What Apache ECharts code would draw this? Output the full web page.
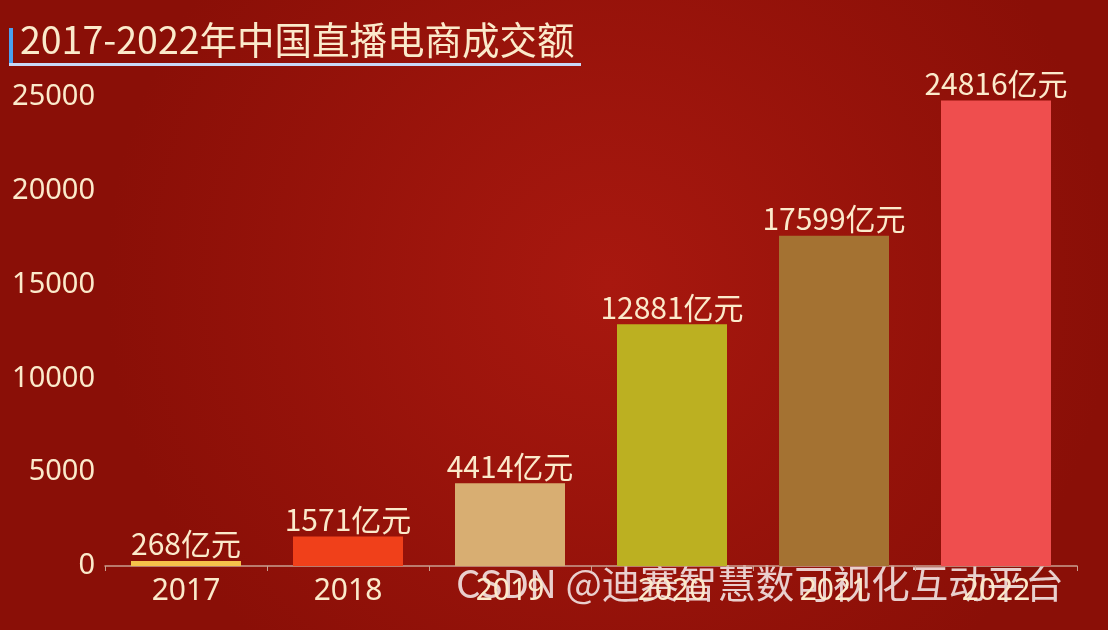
<!DOCTYPE html>
<html><head><meta charset="utf-8">
<script src="https://cdn.jsdelivr.net/npm/echarts@6/dist/echarts.min.js"></script>
<style>html,body{margin:0;padding:0;}#c{width:1108px;height:630px;}</style>
</head><body><div id="c"></div>
<script>
const categories = ['2017','2018','2019','2020','2021','2022'];
const values = [268,1571,4414,12881,17599,24816];
const colors = ['#f5c24a','#f0401a','#d8ae72','#bcb021','#a47232','#ef4e4e'];
const yTicks = [0,5000,10000,15000,20000,25000];
const chart = echarts.init(document.getElementById('c'));
chart.setOption({
  backgroundColor: {type:'radial',x:0.55,y:0.45,r:0.8,colorStops:[{offset:0,color:'#a8180f'},{offset:1,color:'#8a0f07'}]},
  graphic:[
    {type:'rect',shape:{x:9,y:28,width:4,height:36},style:{fill:'#4aa0f0'}},
    {type:'rect',shape:{x:9,y:63,width:572,height:3},style:{fill:'#c8d8f8'}},
    {type:'text',left:20,top:21,style:{text:'2017-2022年中国直播电商成交额',fill:'#fbeacb',font:'37.5px "Noto Sans CJK SC"'}},
    {type:'text',left:456,top:564,style:{text:'CSDN @迪赛智慧数可视化互动平台',fill:'rgba(255,255,255,0.8)',font:'38.5px "Noto Sans CJK SC"'}}
  ],
  grid:{left:105,right:31,top:97,bottom:64},
  xAxis:{type:'category',data:categories,
    axisLine:{lineStyle:{color:'#c9a090',width:1.5}},
    axisTick:{show:true,lineStyle:{color:'#c9a090'}},
    axisLabel:{color:'#fbeacb',fontSize:30,margin:10,fontFamily:'Noto Sans'}},
  yAxis:{type:'value',min:0,max:25000,interval:5000,
    splitLine:{show:false},axisLine:{show:false},axisTick:{show:false},
    axisLabel:{color:'#fbeacb',fontSize:29,margin:10,fontFamily:'Noto Sans',
      formatter:v=>yTicks.includes(v)?String(v):''}},
  series:[{type:'bar',barWidth:110,
    data:values.map((v,i)=>({value:v,itemStyle:{color:colors[i]}})),
    label:{show:true,position:'top',distance:2,color:'#fbeacb',fontSize:30,
      fontFamily:'Noto Sans CJK SC',formatter:p=>p.value+'亿元'}}]
});
</script></body></html>
